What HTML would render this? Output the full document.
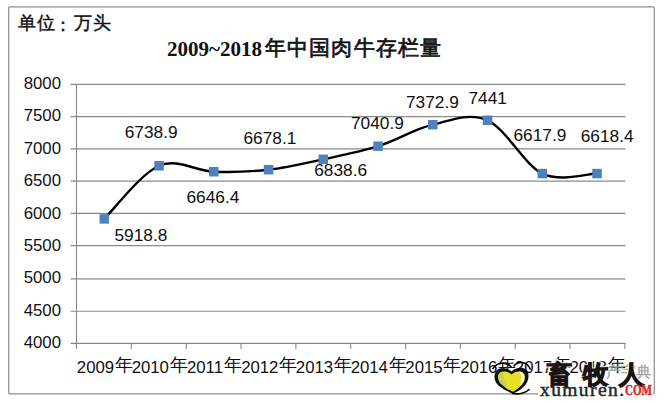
<!DOCTYPE html>
<html><head><meta charset="utf-8"><style>
html,body{margin:0;padding:0;background:#fff;width:664px;height:403px;overflow:hidden}
svg{display:block}
text{font-family:"Liberation Sans",sans-serif}
</style></head><body>
<svg width="664" height="403" viewBox="0 0 664 403">
<rect x="0" y="0" width="664" height="403" fill="#fff"/>
<rect x="8.7" y="6.8" width="645.6" height="387" rx="1" fill="none" stroke="#8c8c8c" stroke-width="1.2"/>
<text x="18" y="29.3" font-size="18" font-weight="normal" stroke="#111" stroke-width="0.45" fill="#111" letter-spacing="0.7">单位<tspan dy="1.5" dx="-1">：</tspan><tspan dy="-1.5" dx="1">万头</tspan></text>
<text x="167" y="55.8" font-size="21" font-weight="bold" fill="#111" style="font-family:'Liberation Serif',serif">2009~2018<tspan letter-spacing="1.25" dx="2.7" dy="-0.5" font-weight="normal" stroke="#111" stroke-width="0.7">年中国肉牛存栏量</tspan></text>
<g stroke="#8a8a8a" stroke-width="1.1" fill="none"><line x1="70.5" y1="84.40" x2="625.5" y2="84.40"/><line x1="70.5" y1="116.60" x2="625.5" y2="116.60"/><line x1="70.5" y1="148.90" x2="625.5" y2="148.90"/><line x1="70.5" y1="181.10" x2="625.5" y2="181.10"/><line x1="70.5" y1="213.35" x2="625.5" y2="213.35"/><line x1="70.5" y1="245.60" x2="625.5" y2="245.60"/><line x1="70.5" y1="278.90" x2="625.5" y2="278.90"/><line x1="70.5" y1="311.20" x2="625.5" y2="311.20"/><line x1="70.5" y1="343.40" x2="625.5" y2="343.40"/><line x1="76.5" y1="84" x2="76.5" y2="349"/><line x1="131.34" y1="343" x2="131.34" y2="349"/><line x1="186.18" y1="343" x2="186.18" y2="349"/><line x1="241.02" y1="343" x2="241.02" y2="349"/><line x1="295.86" y1="343" x2="295.86" y2="349"/><line x1="350.70" y1="343" x2="350.70" y2="349"/><line x1="405.54" y1="343" x2="405.54" y2="349"/><line x1="460.38" y1="343" x2="460.38" y2="349"/><line x1="515.22" y1="343" x2="515.22" y2="349"/><line x1="570.06" y1="343" x2="570.06" y2="349"/><line x1="624.90" y1="343" x2="624.90" y2="349"/></g>
<g font-size="16.8" fill="#111"><text x="61" y="89.00" text-anchor="end">8000</text><text x="61" y="121.38" text-anchor="end">7500</text><text x="61" y="153.75" text-anchor="end">7000</text><text x="61" y="186.12" text-anchor="end">6500</text><text x="61" y="218.50" text-anchor="end">6000</text><text x="61" y="250.88" text-anchor="end">5500</text><text x="61" y="283.25" text-anchor="end">5000</text><text x="61" y="315.62" text-anchor="end">4500</text><text x="61" y="348.00" text-anchor="end">4000</text></g>
<g font-size="16.8" fill="#111"><text x="104.9" y="373" text-anchor="middle">2009<tspan dx="0.8" dy="-1.8" font-size="17.6">年</tspan></text><text x="159.7" y="373" text-anchor="middle">2010<tspan dx="0.8" dy="-1.8" font-size="17.6">年</tspan></text><text x="214.4" y="373" text-anchor="middle">2011<tspan dx="0.8" dy="-1.8" font-size="17.6">年</tspan></text><text x="269.2" y="373" text-anchor="middle">2012<tspan dx="0.8" dy="-1.8" font-size="17.6">年</tspan></text><text x="323.9" y="373" text-anchor="middle">2013<tspan dx="0.8" dy="-1.8" font-size="17.6">年</tspan></text><text x="378.7" y="373" text-anchor="middle">2014<tspan dx="0.8" dy="-1.8" font-size="17.6">年</tspan></text><text x="433.4" y="373" text-anchor="middle">2015<tspan dx="0.8" dy="-1.8" font-size="17.6">年</tspan></text><text x="488.2" y="373" text-anchor="middle">2016<tspan dx="0.8" dy="-1.8" font-size="17.6">年</tspan></text><text x="542.9" y="373" text-anchor="middle">2017<tspan dx="0.8" dy="-1.8" font-size="17.6">年</tspan></text><text x="597.6" y="373" text-anchor="middle">2018<tspan dx="0.8" dy="-1.8" font-size="17.6">年</tspan></text></g>
<path d="M104.30,218.86 C113.42,210.01 140.80,173.61 159.05,165.76 C177.30,157.90 195.55,171.09 213.80,171.75 C232.05,172.40 250.30,171.77 268.55,169.69 C286.80,167.62 305.05,163.22 323.30,159.30 C341.55,155.39 359.80,151.97 378.05,146.20 C396.30,140.44 414.55,129.02 432.80,124.70 C451.05,120.39 469.30,112.15 487.55,120.30 C505.80,128.44 524.05,164.71 542.30,173.59 C560.55,182.47 587.92,173.56 597.05,173.56" fill="none" stroke="#000" stroke-width="2.4"/>
<g fill="#4f81bd"><rect x="99.55" y="214.11" width="9.5" height="9.5"/><rect x="154.30" y="161.01" width="9.5" height="9.5"/><rect x="209.05" y="167.00" width="9.5" height="9.5"/><rect x="263.80" y="164.94" width="9.5" height="9.5"/><rect x="318.55" y="154.55" width="9.5" height="9.5"/><rect x="373.30" y="141.45" width="9.5" height="9.5"/><rect x="428.05" y="119.95" width="9.5" height="9.5"/><rect x="482.80" y="115.55" width="9.5" height="9.5"/><rect x="537.55" y="168.84" width="9.5" height="9.5"/><rect x="592.30" y="168.81" width="9.5" height="9.5"/></g>
<g font-size="17.3" fill="#111"><text x="114.50" y="240.75">5918.8</text><text x="124.75" y="138.00">6738.9</text><text x="186.50" y="203.00">6646.4</text><text x="243.50" y="144.25">6678.1</text><text x="314.25" y="176.25">6838.6</text><text x="351.00" y="128.75">7040.9</text><text x="406.00" y="107.50">7372.9</text><text x="468.50" y="103.75">7441</text><text x="513.50" y="140.75">6617.9</text><text x="580.75" y="142.00">6618.4</text></g>

<g>
<rect x="538" y="385" width="115" height="11" fill="#fff"/>
<text x="605.5" y="377" font-size="14.5" fill="#999" stroke="#aaa" stroke-width="0.3">产宇典</text>
<path d="M492.5,369 C497,362 507,361 511.5,367.5" fill="none" stroke="#000" stroke-width="1.6"/>
<path d="M513.5,366.5 C518,360.5 527,361 530.5,369.5" fill="none" stroke="#000" stroke-width="1.6"/>
<path d="M511.5,371.5 C505,366 494.5,366.5 494.5,377 C494.5,386 505,390 513,393.8 C521,390 528.5,385 528.5,376 C528.5,366 517,366 511.5,371.5 Z" fill="#0d0d0d"/>
<path d="M511.5,374.5 C507,370 498,370 498,377 C498,384 506,388 513,391.8 C519.5,388 525,383 525,377 C525,370 516,370 511.5,374.5 Z" fill="#e8e024"/>
<path d="M500,372.5 C498,376 498.5,381 502,384.5 C504.5,387 507,389 509.5,390.5 C505,385 503,379 504,372 Z" fill="#c6cc6c"/>
<path d="M519,371.5 C523,372 525,376 523.5,381 C522.5,383 521.5,384.5 520.5,385 C522,380 522,375 519,371.5 Z" fill="#fff"/>
<path d="M512,393.3 C519,395 526,393 529.5,389" fill="none" stroke="#000" stroke-width="1.6"/>
<text font-size="25" font-weight="900" fill="#fff" stroke="#fff" stroke-width="3" opacity="0.92"><tspan x="547" y="382.5">畜</tspan><tspan x="583" y="382.5">牧</tspan><tspan x="618.5" y="382.5">人</tspan></text>
<text font-size="25" font-weight="900" fill="#1a1414" stroke="#1a1414" stroke-width="1.1"><tspan x="547" y="382.5">畜</tspan><tspan x="583" y="382.5">牧</tspan><tspan x="618.5" y="382.5">人</tspan></text>
<text x="540" y="395.5" font-size="19.5" font-weight="normal" fill="#262626" stroke="#262626" stroke-width="0.5" style="font-family:'Liberation Serif',serif" textLength="84" lengthAdjust="spacing">xumuren.</text>
<text x="625" y="395.3" font-size="15" font-weight="bold" fill="#e0262a" stroke="#e0262a" stroke-width="0.5" style="font-family:'Liberation Serif',serif" textLength="27" lengthAdjust="spacingAndGlyphs">COM</text>
</g>
</svg>
</body></html>
